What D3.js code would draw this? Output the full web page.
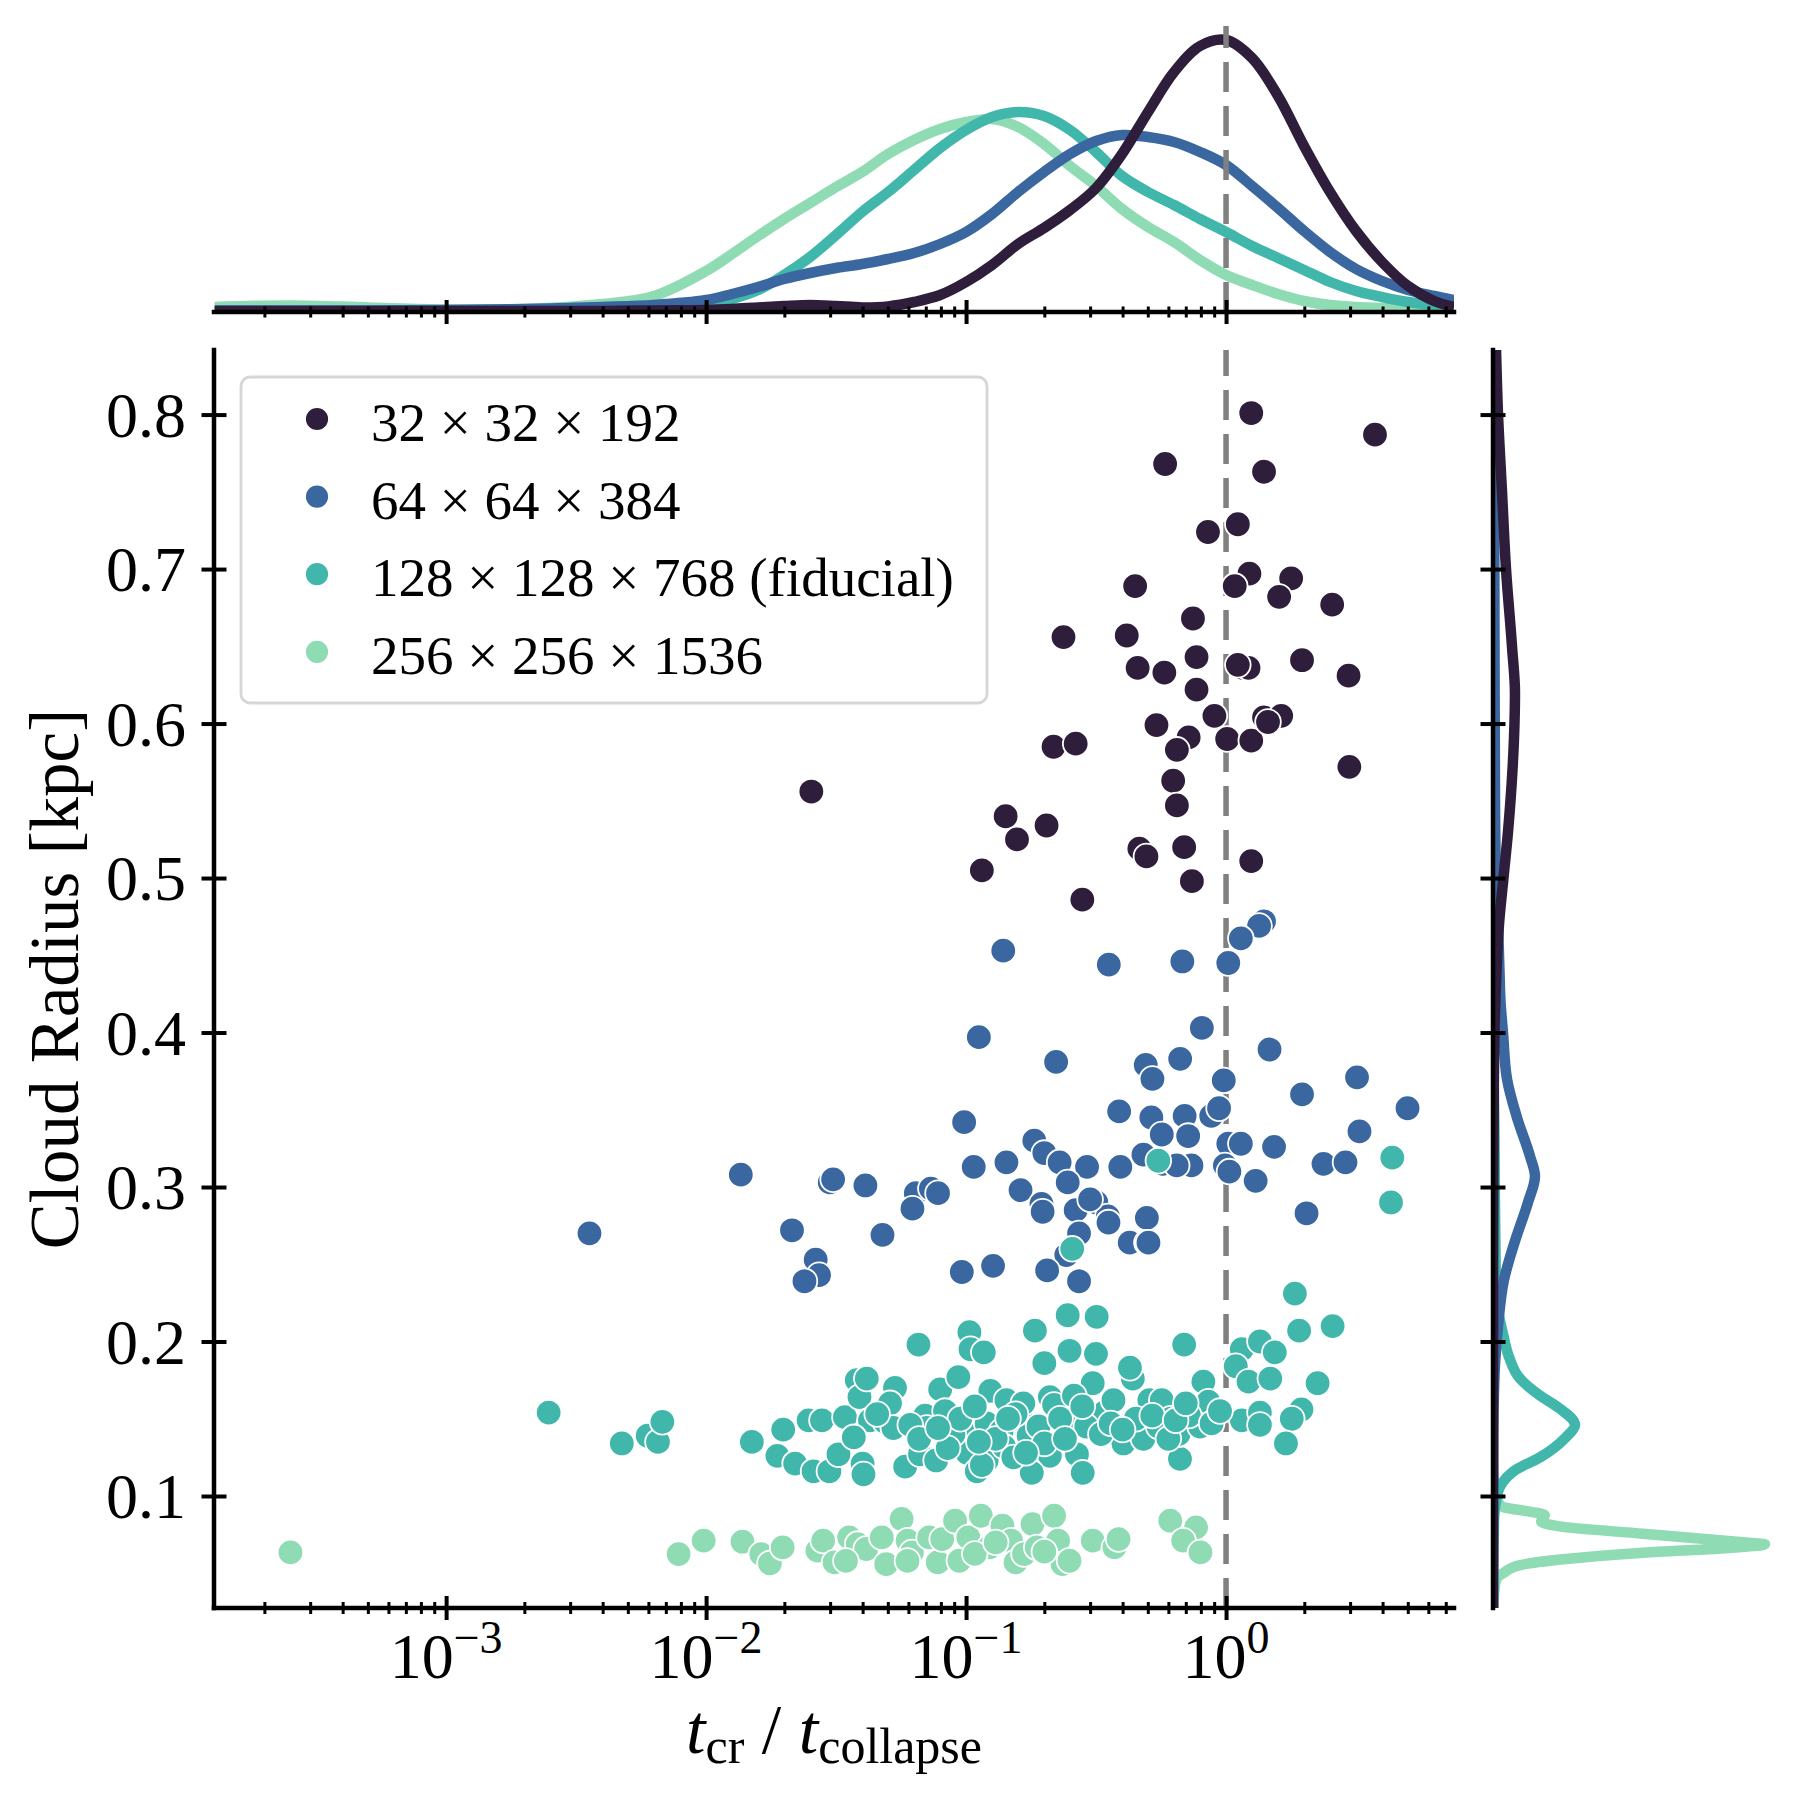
<!DOCTYPE html>
<html>
<head>
<meta charset="utf-8">
<script src="https://cdn.jsdelivr.net/npm/d3@7"></script>
<style>
  body { margin: 0; background: #fff; }
  svg { display: block; font-family: "Liberation Serif", "DejaVu Serif", serif; }
</style>
</head>
<body>
<div id="chart"></div>
<script>
//resolutions and colours
const groupLabels = ['32 × 32 × 192', '64 × 64 × 384', '128 × 128 × 768 (fiducial)', '256 × 256 × 1536']
const groupColors = ['#2e1e3c', '#3a679f', '#41b7ac', '#8fdbb4']

//scatter points: [t_cr / t_collapse, cloud radius in kpc]
const points32 = [
  [1.25, 0.801], [3.74, 0.787], [0.583, 0.768], [1.40, 0.763], [0.852, 0.724], [1.11, 0.729],
  [0.447, 0.689], [1.23, 0.697], [1.08, 0.689], [1.78, 0.694], [1.60, 0.682], [2.56, 0.677],
  [0.237, 0.656], [0.415, 0.657], [0.746, 0.668], [0.457, 0.636], [0.579, 0.633], [0.770, 0.643],
  [1.16, 0.636], [1.22, 0.636], [1.96, 0.641], [2.96, 0.631], [0.770, 0.622], [0.540, 0.599],
  [0.902, 0.605], [0.718, 0.591], [1.01, 0.590], [1.25, 0.589], [1.40, 0.604], [1.63, 0.605],
  [0.217, 0.585], [0.264, 0.587], [0.647, 0.583], [2.98, 0.572], [0.626, 0.563], [0.647, 0.547],
  [0.142, 0.540], [0.157, 0.525], [0.204, 0.534], [0.464, 0.519], [0.494, 0.514], [0.690, 0.520],
  [0.739, 0.498], [1.25, 0.511], [0.115, 0.505], [0.280, 0.486], [1.45, 0.601], [1.11, 0.638],
  [0.0254, 0.556]
]
const points64 = [
  [1.40, 0.472], [1.34, 0.469], [1.14, 0.461], [0.139, 0.453], [0.354, 0.444], [0.679, 0.446],
  [1.02, 0.445], [0.807, 0.403], [0.112, 0.397], [1.47, 0.389], [0.222, 0.381], [0.491, 0.379],
  [0.666, 0.383], [0.521, 0.370], [0.98, 0.369], [3.19, 0.371], [1.96, 0.360], [4.99, 0.351],
  [0.0983, 0.342], [0.388, 0.349], [0.516, 0.345], [0.693, 0.346], [0.877, 0.346], [0.94, 0.351],
  [0.566, 0.334], [0.715, 0.333], [3.26, 0.336], [1.02, 0.328], [1.14, 0.328], [1.53, 0.326],
  [0.183, 0.330], [0.481, 0.321], [0.571, 0.315], [0.736, 0.314], [0.99, 0.314], [1.03, 0.310],
  [1.30, 0.304], [2.37, 0.315], [2.88, 0.316], [0.143, 0.316], [0.107, 0.313], [0.200, 0.322],
  [0.229, 0.316], [0.292, 0.313], [0.392, 0.313], [0.0136, 0.308], [0.0299, 0.303], [0.0308, 0.305],
  [0.0410, 0.301], [0.0641, 0.296], [0.0732, 0.299], [0.0780, 0.296], [0.0622, 0.286], [0.162, 0.298],
  [0.246, 0.303], [0.195, 0.289], [0.197, 0.284], [0.264, 0.285], [0.317, 0.290], [0.351, 0.281],
  [0.496, 0.280], [2.04, 0.283], [0.00356, 0.270], [0.0214, 0.272], [0.0477, 0.269], [0.272, 0.270],
  [0.426, 0.264], [0.496, 0.264], [0.243, 0.256], [0.0264, 0.253], [0.0272, 0.243], [0.0239, 0.239],
  [0.0963, 0.245], [0.127, 0.249], [0.205, 0.246], [0.272, 0.239], [0.30, 0.292], [0.646, 0.314],
  [0.353, 0.277], [0.503, 0.264]
]
const points128 = [
  [0.00248, 0.154], [0.00474, 0.134], [0.00596, 0.139], [0.00653, 0.135], [0.00679, 0.148],
  [0.0150, 0.135], [0.0198, 0.143], [0.0188, 0.126], [0.0220, 0.121], [0.0248, 0.149], [0.0259, 0.116],
  [0.0298, 0.116], [0.0279, 0.149], [0.0323, 0.127], [0.0342, 0.151], [0.0380, 0.175], [0.0389, 0.164],
  [0.0415, 0.176], [0.0427, 0.149], [0.0400, 0.121], [0.0403, 0.114], [0.0488, 0.148], [0.0533, 0.170],
  [0.0510, 0.160], [0.0583, 0.119], [0.0656, 0.198], [0.0665, 0.127], [0.0696, 0.152], [0.0767, 0.123],
  [0.0795, 0.169], [0.0830, 0.155], [0.0934, 0.177], [0.103, 0.206], [0.104, 0.195], [0.117, 0.193],
  [0.101, 0.141], [0.101, 0.128], [0.110, 0.116], [0.120, 0.123], [0.124, 0.168], [0.120, 0.147],
  [0.137, 0.142], [0.143, 0.162], [0.140, 0.132], [0.164, 0.149], [0.166, 0.160], [0.184, 0.207],
  [0.200, 0.186], [0.210, 0.164], [0.218, 0.159], [0.210, 0.126], [0.246, 0.217], [0.250, 0.194],
  [0.248, 0.144], [0.267, 0.127], [0.281, 0.115], [0.316, 0.192], [0.307, 0.173], [0.318, 0.216],
  [0.340, 0.154], [0.369, 0.162], [0.403, 0.134], [0.438, 0.176], [0.427, 0.183], [0.481, 0.137],
  [0.507, 0.162], [0.566, 0.162], [0.613, 0.150], [0.665, 0.124], [0.690, 0.198], [0.656, 0.140],
  [0.794, 0.145], [0.818, 0.174], [0.855, 0.161], [0.179, 0.115], [0.152, 0.125], [0.174, 0.139],
  [0.0894, 0.140], [0.0706, 0.144], [0.0525, 0.144],
  [0.0455, 0.153], [0.061, 0.146], [0.085, 0.131], [0.095, 0.150], [0.108, 0.158], [0.13, 0.137],
  [0.155, 0.153], [0.19, 0.145], [0.23, 0.150], [0.29, 0.145], [0.33, 0.140], [0.45, 0.150],
  [0.55, 0.145], [0.72, 0.152], [0.88, 0.147], [0.115, 0.120], [0.20, 0.134], [0.26, 0.165],
  [0.36, 0.147], [0.60, 0.137], [0.037, 0.138], [0.066, 0.137], [0.078, 0.144], [0.112, 0.135],
  [0.145, 0.150], [0.17, 0.128], [0.24, 0.137], [0.28, 0.158], [0.40, 0.143], [0.52, 0.152],
  [0.64, 0.149], [0.70, 0.160],
  [0.549, 0.317], [0.256, 0.260], [4.36, 0.319], [4.31, 0.290], [1.84, 0.231], [1.91, 0.207],
  [2.57, 0.210], [1.15, 0.195], [1.35, 0.200], [1.54, 0.193], [1.09, 0.184], [1.22, 0.174],
  [1.48, 0.176], [2.25, 0.173], [1.15, 0.149], [1.35, 0.154], [1.35, 0.146], [1.95, 0.156],
  [1.79, 0.150], [1.70, 0.134], [0.948, 0.155]
]
const points256 = [
  [0.000252, 0.0635], [0.00784, 0.0624], [0.00979, 0.0711], [0.0138, 0.0704], [0.0163, 0.0624],
  [0.0176, 0.0564], [0.0197, 0.0667], [0.0268, 0.0646], [0.0282, 0.0711], [0.0312, 0.0570],
  [0.0355, 0.0732], [0.0383, 0.0689], [0.0413, 0.0657], [0.0474, 0.0732], [0.0493, 0.0559],
  [0.0565, 0.0851], [0.0596, 0.0711], [0.0619, 0.0635], [0.0721, 0.0732], [0.0778, 0.0570],
  [0.0809, 0.0721], [0.0907, 0.0840], [0.0942, 0.0581], [0.102, 0.0732], [0.114, 0.0872],
  [0.123, 0.0667], [0.138, 0.0808], [0.149, 0.0711], [0.155, 0.0570], [0.167, 0.0624],
  [0.180, 0.0818], [0.187, 0.0667], [0.218, 0.0872], [0.226, 0.0711], [0.235, 0.0559],
  [0.250, 0.0581], [0.307, 0.0711], [0.372, 0.0667], [0.386, 0.0721], [0.610, 0.0840],
  [0.767, 0.0797], [0.684, 0.0711], [0.797, 0.0635], [0.0345, 0.0580], [0.0595, 0.0580],
  [0.108, 0.0625], [0.200, 0.0640], [0.130, 0.0700]
]

//axis ticks
const majorT = [1e-3, 1e-2, 1e-1, 1]
const majorTExp = ['−3', '−2', '−1', '0']
const radiusTicks = [0.1, 0.2, 0.3, 0.4, 0.5, 0.6, 0.7, 0.8]

//marginal kde of log10(t_cr / t_collapse)
const kdeLogT = [-3.89, -3.6, -3.3, -3.0, -2.7, -2.4, -2.2, -2.0, -1.9, -1.8, -1.7, -1.6, -1.5, -1.4, -1.3,
  -1.2, -1.1, -1.0, -0.9, -0.8, -0.7, -0.6, -0.5, -0.4, -0.3, -0.2, -0.1, 0.0, 0.1, 0.2, 0.3, 0.4, 0.5,
  0.6, 0.7, 0.8, 0.877]
const kdeT32 = [0.005, 0.005, 0.005, 0.005, 0.005, 0.005, 0.008, 0.01, 0.015, 0.023, 0.03, 0.035, 0.03,
  0.023, 0.028, 0.05, 0.085, 0.15, 0.235, 0.34, 0.42, 0.51, 0.62, 0.79, 1.0, 1.2, 1.33, 1.36, 1.27,
  1.08, 0.83, 0.6, 0.405, 0.25, 0.13, 0.055, 0.025]
const kdeT64 = [0.008, 0.008, 0.008, 0.01, 0.015, 0.025, 0.035, 0.06, 0.09, 0.125, 0.165, 0.195, 0.22,
  0.24, 0.265, 0.295, 0.34, 0.4, 0.49, 0.6, 0.7, 0.79, 0.855, 0.885, 0.875, 0.85, 0.8, 0.735, 0.63, 0.52,
  0.405, 0.3, 0.215, 0.155, 0.11, 0.08, 0.06]
const kdeT128 = [0.003, 0.003, 0.003, 0.004, 0.005, 0.008, 0.013, 0.035, 0.065, 0.11, 0.185, 0.275, 0.385,
  0.5, 0.6, 0.71, 0.82, 0.91, 0.975, 1.0, 0.98, 0.91, 0.8, 0.68, 0.6, 0.535, 0.465, 0.4, 0.33, 0.27, 0.21,
  0.15, 0.105, 0.075, 0.05, 0.035, 0.025]
const kdeT256 = [0.025, 0.033, 0.023, 0.013, 0.015, 0.04, 0.08, 0.205, 0.29, 0.38, 0.465, 0.545, 0.625,
  0.7, 0.79, 0.86, 0.915, 0.95, 0.965, 0.925, 0.84, 0.73, 0.63, 0.515, 0.425, 0.35, 0.26, 0.185, 0.135,
  0.09, 0.055, 0.035, 0.025, 0.02, 0.015, 0.013, 0.01]

//marginal kde of cloud radius: [radius, density]
const kdeR32 = [[0.842, 0.56], [0.80, 0.93], [0.75, 1.67], [0.70, 2.41], [0.65, 3.52], [0.62, 4.07],
  [0.60, 3.98], [0.57, 3.61], [0.53, 2.78], [0.50, 1.94], [0.47, 1.11], [0.44, 0.65], [0.40, 0.28],
  [0.35, 0.13], [0.30, 0.06], [0.25, 0.02], [0.20, 0.01], [0.10, 0], [0.0275, 0]]
const kdeR64 = [[0.842, 0.19], [0.75, 0.22], [0.65, 0.28], [0.55, 0.37], [0.50, 0.56], [0.47, 0.93],
  [0.44, 1.2], [0.42, 1.39], [0.40, 1.85], [0.37, 2.59], [0.345, 4.44], [0.32, 6.85], [0.307, 7.78],
  [0.29, 6.48], [0.265, 4.07], [0.24, 2.04], [0.21, 0.93], [0.185, 0.37], [0.16, 0.13], [0.13, 0.04],
  [0.0275, 0]]
const kdeR128 = [[0.842, 0], [0.40, 0.04], [0.33, 0.28], [0.30, 0.33], [0.26, 0.46], [0.235, 0.56],
  [0.22, 0.93], [0.205, 1.85], [0.19, 2.96], [0.176, 5.0], [0.165, 8.7], [0.157, 12.2], [0.146, 15.2],
  [0.138, 13.5], [0.125, 8.7], [0.117, 4.26], [0.106, 1.3], [0.098, 0.65], [0.085, 0.19], [0.0275, 0]]
const kdeR256 = [[0.842, 0], [0.12, 0], [0.101, 0.56], [0.0935, 1.48], [0.0875, 9.6], [0.0835, 8.9],
  [0.080, 13], [0.0756, 27.8], [0.070, 46.3], [0.0687, 50.4], [0.0665, 44.4], [0.0633, 27.8],
  [0.059, 13], [0.0552, 5], [0.050, 1.85], [0.047, 0.74], [0.040, 0.28], [0.0275, 0.09]]

function draw() {
  //set dimensions
  const dimensions = { width: 1800, height: 1800 }
  const main = { left: 214, right: 1454, top: 350, bottom: 1608 }
  const topPanel = { top: 26, bottom: 312 }
  const rightPanel = { left: 1493, right: 1779 }
  const black = '#000'

  const svg = d3.select('#chart')
    .append('svg')
    .attr('width', dimensions.width)
    .attr('height', dimensions.height)

  //scales
  const xScale = d3.scaleLog().domain([1.28e-4, 7.53]).range([main.left, main.right])
  const yScale = d3.scaleLinear().domain([0.0275, 0.8418]).range([main.bottom, main.top])
  const topDens = d3.scaleLinear().domain([0, 1.43]).range([topPanel.bottom, topPanel.top])
  const rightDens = d3.scaleLinear().domain([0, 53]).range([rightPanel.left, rightPanel.right])

  const minorT = xScale.ticks().filter(v => Math.abs(Math.log10(v) - Math.round(Math.log10(v))) > 1e-6)

  //clip paths for the marginals
  const defs = svg.append('defs')
  defs.append('clipPath').attr('id', 'clipTop').append('rect')
    .attr('x', main.left).attr('y', 0)
    .attr('width', main.right - main.left).attr('height', topPanel.bottom)
  defs.append('clipPath').attr('id', 'clipRight').append('rect')
    .attr('x', rightPanel.left).attr('y', main.top)
    .attr('width', dimensions.width - rightPanel.left).attr('height', main.bottom - main.top)

  //top marginal curves (drawn from last group to first)
  const topLine = d3.line()
    .x(d => xScale(Math.pow(10, d[0])))
    .y(d => topDens(d[1]))
    .curve(d3.curveCatmullRom.alpha(0.5))
  const topSeries = [kdeT32, kdeT64, kdeT128, kdeT256].map(arr => kdeLogT.map((g, i) => [g, arr[i]]))

  const topGroup = svg.append('g').attr('clip-path', 'url(#clipTop)')
  topGroup.selectAll('path')
    .data([3, 2, 1, 0])
    .join('path')
    .attr('d', i => topLine(topSeries[i]))
    .attr('fill', 'none')
    .attr('stroke', i => groupColors[i])
    .attr('stroke-width', 10.5)
    .attr('stroke-linejoin', 'round')

  //right marginal curves
  const rightLine = d3.line()
    .x(d => rightDens(d[1]))
    .y(d => yScale(d[0]))
    .curve(d3.curveMonotoneY)
  const rightSeries = [kdeR32, kdeR64, kdeR128, kdeR256]

  const rightGroup = svg.append('g').attr('clip-path', 'url(#clipRight)')
  rightGroup.selectAll('path')
    .data([3, 2, 1, 0])
    .join('path')
    .attr('d', i => rightLine(rightSeries[i]))
    .attr('fill', 'none')
    .attr('stroke', i => groupColors[i])
    .attr('stroke-width', 10.5)
    .attr('stroke-linejoin', 'round')

  //dashed line at t_cr = t_collapse
  const dashX = xScale(1)
  svg.append('line')
    .attr('x1', dashX).attr('x2', dashX)
    .attr('y1', topPanel.bottom).attr('y2', topPanel.top)
    .attr('stroke', '#808080').attr('stroke-width', 5.5).attr('stroke-dasharray', '30 14')
  svg.append('line')
    .attr('x1', dashX).attr('x2', dashX)
    .attr('y1', main.bottom).attr('y2', main.top)
    .attr('stroke', '#808080').attr('stroke-width', 5.5).attr('stroke-dasharray', '30 14')

  //scatter points
  const allPoints = [points32, points64, points128, points256]
    .flatMap((pts, gi) => pts.map(p => ({ t: p[0], r: p[1], g: gi })))

  svg.append('g')
    .selectAll('circle')
    .data(allPoints)
    .join('circle')
    .attr('cx', d => xScale(d.t))
    .attr('cy', d => yScale(d.r))
    .attr('r', 12.8)
    .attr('fill', d => groupColors[d.g])
    .attr('stroke', '#fff')
    .attr('stroke-width', 1.8)

  //ticks helper: in-out ticks
  const bottomTicks = (y, values, half, width) => {
    svg.append('g')
      .attr('transform', `translate(0,${y})`)
      .call(d3.axisBottom(xScale).tickValues(values).tickFormat(''))
      .call(g => {
        g.select('.domain').remove()
        g.selectAll('.tick line').attr('y1', -half).attr('y2', half)
          .attr('stroke', black).attr('stroke-width', width)
      })
  }
  const leftTicks = (x, half, width) => {
    svg.append('g')
      .attr('transform', `translate(${x},0)`)
      .call(d3.axisLeft(yScale).tickValues(radiusTicks).tickFormat(''))
      .call(g => {
        g.select('.domain').remove()
        g.selectAll('.tick line').attr('x1', -half).attr('x2', half)
          .attr('stroke', black).attr('stroke-width', width)
      })
  }

  bottomTicks(main.bottom, minorT, 6, 3)
  bottomTicks(main.bottom, majorT, 12, 4)
  bottomTicks(topPanel.bottom, minorT, 5.5, 3)
  bottomTicks(topPanel.bottom, majorT, 12, 4)
  leftTicks(main.left, 12.5, 4)
  leftTicks(rightPanel.left, 12.5, 4)

  //spines
  const spines = [
    [main.left, main.top, main.left, main.bottom],
    [main.left, main.bottom, main.right, main.bottom],
    [main.left, topPanel.bottom, main.right, topPanel.bottom],
    [rightPanel.left, main.top, rightPanel.left, main.bottom]
  ]
  svg.append('g')
    .selectAll('line')
    .data(spines)
    .join('line')
    .attr('x1', d => d[0]).attr('y1', d => d[1])
    .attr('x2', d => d[2]).attr('y2', d => d[3])
    .attr('stroke', black)
    .attr('stroke-width', 4.5)
    .attr('stroke-linecap', 'square')

  //x tick labels
  const xLabels = svg.append('g')
    .selectAll('text')
    .data(majorT)
    .join('text')
    .attr('x', d => xScale(d))
    .attr('y', main.bottom + 70)
    .attr('text-anchor', 'middle')
    .attr('font-size', 64)
    .attr('fill', black)
  xLabels.append('tspan').text('10')
  xLabels.append('tspan')
    .attr('dy', -25)
    .attr('font-size', 46)
    .text((d, i) => majorTExp[i])

  //y tick labels
  svg.append('g')
    .selectAll('text')
    .data(radiusTicks)
    .join('text')
    .attr('x', 186)
    .attr('y', d => yScale(d) + 22)
    .attr('text-anchor', 'end')
    .attr('font-size', 64)
    .attr('fill', black)
    .text(d3.format('.1f'))

  //axis titles
  const xTitle = svg.append('text')
    .attr('x', (main.left + main.right) / 2)
    .attr('y', 1753)
    .attr('text-anchor', 'middle')
    .attr('font-size', 70)
    .attr('fill', black)
  xTitle.append('tspan').attr('font-style', 'italic').text('t')
  xTitle.append('tspan').attr('dy', 10).attr('font-size', 50).text('cr')
  xTitle.append('tspan').attr('dy', -10).text(' / ')
  xTitle.append('tspan').attr('font-style', 'italic').text('t')
  xTitle.append('tspan').attr('dy', 10).attr('font-size', 50).text('collapse')

  svg.append('text')
    .attr('transform', `translate(78,${(main.top + main.bottom) / 2}) rotate(-90)`)
    .attr('text-anchor', 'middle')
    .attr('font-size', 69)
    .attr('fill', black)
    .text('Cloud Radius [kpc]')

  //legend
  const legend = svg.append('g').attr('transform', 'translate(241,377)')
  legend.append('rect')
    .attr('width', 746)
    .attr('height', 326)
    .attr('rx', 9)
    .attr('fill', '#fff')
    .attr('fill-opacity', 0.8)
    .attr('stroke', '#d6d6d6')
    .attr('stroke-width', 2.8)

  const rows = legend.selectAll('g.row')
    .data(groupLabels)
    .join('g')
    .attr('class', 'row')
    .attr('transform', (d, i) => `translate(0,${42 + i * 77.6})`)
  rows.append('circle')
    .attr('cx', 76)
    .attr('r', 12)
    .attr('fill', (d, i) => groupColors[i])
    .attr('stroke', '#fff')
    .attr('stroke-width', 1.8)
  rows.append('text')
    .attr('x', 130)
    .attr('y', 22)
    .attr('font-size', 55)
    .attr('fill', black)
    .text(d => d)
}

draw()
</script>
</body>
</html>
